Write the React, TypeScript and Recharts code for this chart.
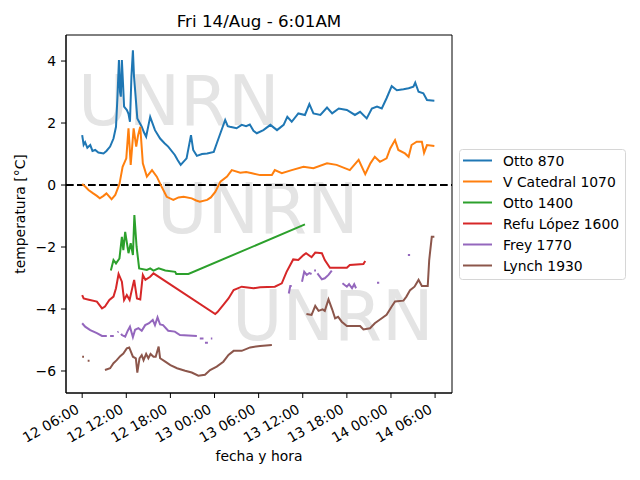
import { Customized, Legend, Line, LineChart, ReferenceArea, ReferenceLine, XAxis, YAxis } from "recharts";

// hours since 12/Aug 06:00
const hourTicks = [0, 6, 12, 18, 24, 30, 36, 42, 48];
const hourTickLabels = ["12 06:00", "12 12:00", "12 18:00", "13 00:00", "13 06:00", "13 12:00", "13 18:00", "14 00:00", "14 06:00"];
const tempTicks = [-6, -4, -2, 0, 2, 4];

const seriesNames = ["Otto 870", "V Catedral 1070", "Otto 1400", "Refu López 1600", "Frey 1770", "Lynch 1930"];
const seriesColors = ["#1f77b4", "#ff7f0e", "#2ca02c", "#d62728", "#9467bd", "#8c564b"];

const otto870 = [
  [0, 1.61], [0.2, 1.3], [0.4, 1.38], [0.7, 1.2], [1.1, 1.29], [1.4, 1.1], [1.77, 1.13], [2.2, 1.05], [2.9, 1.02],
  [3.3, 1.1], [3.8, 1.24], [4.26, 1.5], [4.6, 1.88], [4.8, 2.85], [5.0, 4.03], [5.15, 3.0], [5.26, 2.85], [5.4, 4.03],
  [5.55, 3.3], [5.7, 2.53], [6.08, 2.42], [6.3, 2.3], [6.5, 2.04], [6.7, 3.5], [6.9, 4.35], [7.05, 3.5], [7.2, 3.06],
  [7.5, 2.15], [8.1, 1.88], [8.4, 1.7], [8.7, 1.56], [9.25, 2.2], [9.9, 1.77], [10.6, 1.5], [11.2, 1.35], [11.7, 1.24],
  [12.6, 0.97], [13.0, 0.8], [13.4, 0.65], [14.2, 0.86], [14.8, 1.61], [15.1, 1.13], [15.6, 0.94], [16.3, 1.0],
  [17.0, 1.02], [17.9, 1.07], [18.3, 1.34], [18.8, 1.67], [19.45, 2.1], [19.8, 1.9], [20.1, 1.88], [21.0, 1.83],
  [21.7, 1.94], [22.3, 1.9], [22.8, 1.95], [23.3, 1.75], [23.75, 1.67], [24.65, 1.77], [25.6, 1.94], [26.5, 1.77],
  [27.4, 1.94], [27.9, 2.2], [28.5, 2.04], [29.4, 2.31], [30.3, 2.26], [30.9, 2.61], [31.45, 2.31], [32.4, 2.26],
  [33.3, 2.5], [34.0, 2.31], [34.9, 2.47], [36.0, 2.42], [37.1, 2.26], [37.8, 2.36], [38.7, 2.15], [39.4, 2.47],
  [40.1, 2.53], [40.75, 2.47], [41.4, 2.8], [42.1, 3.19], [42.8, 3.06], [43.7, 3.09], [44.4, 3.12], [45.05, 3.17],
  [45.3, 3.3], [45.75, 3.01], [46.4, 2.96], [46.9, 2.74], [47.9, 2.72],
];

const vCatedral1070 = [
  [0, 0.03], [0.4, -0.05], [0.86, -0.16], [1.5, -0.27], [2.0, -0.35], [2.4, -0.43], [2.9, -0.35], [3.3, -0.27],
  [4.0, -0.46], [4.5, -0.32], [5.07, 0.03], [5.5, 0.59], [6.0, 0.86], [6.3, 1.83], [6.6, 0.65], [7.0, 1.83],
  [7.35, 1.24], [7.6, 1.6], [7.9, 1.88], [8.25, 0.7], [8.8, 0.27], [9.5, 0.48], [10.15, 0.27], [10.8, -0.05],
  [11.5, -0.38], [12.4, -0.48], [13.1, -0.4], [13.8, -0.38], [14.9, -0.43], [15.5, -0.5], [16.0, -0.54], [17.0, -0.48],
  [17.5, -0.4], [18.1, -0.22], [18.8, 0.11], [19.7, 0.27], [20.35, 0.48], [21.5, 0.4], [22.3, 0.42], [23.1, 0.38],
  [24.2, 0.32], [25.8, 0.32], [26.2, 0.48], [27.15, 0.38], [28.5, 0.48], [30.1, 0.59], [31.45, 0.54], [33.3, 0.7],
  [34.6, 0.65], [36.4, 0.48], [37.6, 0.81], [38.5, 0.35], [39.2, 0.7], [39.8, 0.91], [40.5, 0.75], [41.4, 0.86],
  [41.9, 1.18], [42.55, 1.45], [43.0, 1.13], [43.9, 1.02], [44.4, 0.91], [44.8, 1.29], [45.5, 1.4], [46.2, 1.4],
  [46.5, 1.04], [46.9, 1.29], [47.9, 1.26],
];

const otto1400 = [
  [3.9, -2.76], [4.26, -2.42], [4.6, -2.53], [5.07, -2.37], [5.4, -1.67], [5.6, -2.1], [5.85, -1.51], [6.3, -2.2],
  [6.6, -1.88], [6.9, -2.26], [7.1, -0.97], [7.4, -1.99], [7.75, -2.69], [8.8, -2.74], [9.25, -2.69], [9.7, -2.76],
  [10.4, -2.69], [11.3, -2.76], [12.65, -2.8], [12.8, -2.87], [14.45, -2.87], [30.3, -1.27],
];

const refuLopez1600 = [
  [0, -3.55], [0.2, -3.66], [0.9, -3.7], [2.0, -3.76], [2.7, -3.98], [3.1, -3.92], [3.7, -3.71], [4.26, -3.6],
  [4.6, -3.33], [4.95, -2.87], [5.4, -3.12], [5.7, -3.71], [6.07, -3.55], [6.45, -3.71], [6.75, -3.39], [7.07, -3.06],
  [7.45, -3.66], [7.9, -3.69], [8.25, -2.9], [8.6, -3.06], [9.25, -2.96], [9.7, -2.85], [18.1, -4.16], [18.4, -4.1],
  [19.2, -3.87], [19.9, -3.66], [20.6, -3.39], [21.7, -3.28], [23.3, -3.33], [24.2, -3.3], [26.2, -3.28],
  [27.15, -3.17], [27.8, -2.8], [28.7, -2.4], [29.4, -2.42], [30.1, -2.26], [30.45, -2.2], [31.2, -2.33],
  [31.7, -2.18], [32.6, -2.2], [33.0, -2.42], [33.7, -2.67], [36.0, -2.67], [36.4, -2.58], [38.25, -2.55], [38.5, -2.45],
];

const frey1770 = [
  [0, -4.46], [0.4, -4.57], [1.1, -4.68], [2.0, -4.78], [2.7, -4.87], [3.35, -4.87], [3.5, null], [3.8, -4.87],
  [4.3, -4.87], [4.5, null], [4.8, -4.75], [4.95, -4.73], [5.1, null], [5.3, -4.8], [5.4, -4.84], [5.85, -4.89],
  [6.2, -4.7], [6.5, -4.57], [6.9, -4.91], [7.2, -4.67], [7.65, -4.62], [8.1, -4.7], [8.57, -4.52], [9.1, -4.46],
  [9.6, -4.35], [9.9, -4.52], [10.25, -4.27], [10.6, -4.5], [11.0, -4.52], [11.7, -4.7], [12.6, -4.73], [13.3, -4.84],
  [15.6, -4.87], [15.8, null], [16.0, -4.95], [16.5, -4.95], [16.6, null], [16.7, -5.09], [17.1, -5.09], [17.3, null],
  [17.5, -4.95], [17.7, -4.95], [17.9, null], [28.1, -3.5], [28.3, -3.26], [28.5, -3.26], [28.8, null],
  [29.9, -3.12], [30.2, -2.8], [30.55, -2.9], [30.9, -2.84], [31.2, -2.87], [31.4, null], [31.55, -2.76],
  [31.8, -2.76], [31.9, null], [32.0, -2.85], [32.15, -2.9], [32.6, -3.04], [33.0, -3.01], [33.5, -2.9],
  [33.95, -2.76], [34.2, null], [35.4, -3.17], [36.0, -3.28], [36.3, -3.2], [36.7, -3.33], [37.0, -3.2],
  [37.25, -3.33], [37.5, null], [40.1, -3.15], [40.4, -3.15], [40.6, null], [44.3, -2.26], [44.6, -2.26],
];

const lynch1930 = [
  [0, -5.54], [0.25, -5.54], [0.5, null], [0.75, -5.67], [1.0, -5.67], [1.2, null], [3.1, -5.97], [3.8, -5.91],
  [4.26, -5.75], [4.7, -5.65], [5.17, -5.52], [5.6, -5.44], [6.07, -5.27], [6.4, -5.24], [6.9, -5.54], [7.3, -5.59],
  [7.5, -6.05], [7.8, -5.59], [8.1, -5.49], [8.35, -5.65], [8.7, -5.45], [9.0, -5.59], [9.3, -5.45], [9.7, -5.54],
  [10.0, -5.54], [10.4, -5.21], [10.6, -5.59], [11.3, -5.7], [12.0, -5.81], [12.9, -5.91], [14.0, -5.99],
  [14.9, -6.05], [15.8, -6.15], [16.7, -6.12], [17.4, -5.97], [18.3, -5.86], [19.2, -5.7], [19.9, -5.48],
  [20.6, -5.35], [21.7, -5.35], [22.85, -5.24], [24.2, -5.19], [25.8, -5.16], [26.0, null], [30.5, -4.16],
  [31.2, -4.19], [31.7, -3.9], [32.15, -4.06], [32.7, -4.01], [33.0, -4.06], [33.5, -3.69], [34.0, -4.01],
  [34.4, -4.3], [34.8, -4.25], [35.3, -4.41], [36.0, -4.55], [37.8, -4.55], [38.25, -4.66], [39.15, -4.62],
  [39.8, -4.46], [40.75, -4.3], [41.4, -4.19], [42.1, -3.92], [42.55, -3.76], [43.7, -3.73], [44.1, -3.6],
  [44.6, -3.39], [45.2, -3.28], [45.75, -3.06], [46.2, -3.26], [47.0, -3.26], [47.2, -2.42], [47.55, -1.67], [47.9, -1.67],
];

const allSeries = [otto870, vCatedral1070, otto1400, refuLopez1600, frey1770, lynch1930];

const xDomain = [-2.2, 50.3];
const yDomain = [-6.71, 4.84];
const font = "'DejaVu Sans', sans-serif";

const toRows = (pts) => pts.map(([t, v]) => ({ t, v }));

const fmtTemp = (v) => (v < 0 ? "\u2212" + Math.abs(v) : String(v));

const DateTick = ({ x, y, payload }) => {
  const label = hourTickLabels[hourTicks.indexOf(payload.value)];
  const ax = x - 2;
  const ay = y + 9;
  return (
    <text x={ax} y={ay} transform={`rotate(-30 ${ax} ${ay})`} textAnchor="end" fontSize={13.9} fill="#000">
      {label}
    </text>
  );
};

const Watermark = () => (
  <g>
    {[[78, 125], [157, 233], [232, 340]].map(([x, y], i) => (
      <text key={i} x={x} y={y} fontSize={69} fill="#e4e4e4" fontFamily={font}>
        UNRN
      </text>
    ))}
  </g>
);

const Captions = () => (
  <g fontFamily={font} fill="#000">
    <text x={259} y={27} textAnchor="middle" fontSize={16.7}>Fri 14/Aug - 6:01AM</text>
    <text x={259} y={461} textAnchor="middle" fontSize={13.9}>fecha y hora</text>
    <text x={25} y={214} textAnchor="middle" fontSize={13.9} transform="rotate(-90 25 214)">temperatura [°C]</text>
  </g>
);

const LegendBox = () => (
  <svg width={168} height={132} style={{ display: "block", fontFamily: font }}>
    <rect x={0.5} y={0.5} width={166} height={130} rx={3} fill="#fff" fillOpacity={0.8} stroke="#d6d6d6" />
    {seriesNames.map((name, i) => (
      <g key={name}>
        <line x1={4} x2={33} y1={11.5 + i * 21} y2={11.5 + i * 21} stroke={seriesColors[i]} strokeWidth={2} />
        <text x={44} y={16.5 + i * 21} fontSize={13.9} fill="#000">{name}</text>
      </g>
    ))}
  </svg>
);

export default function App() {
  return (
    <div style={{ position: "absolute", left: 0, top: 0, width: 640, height: 480, background: "#fff", fontFamily: font }}>
      <LineChart width={640} height={480} margin={{ top: 35, right: 188, bottom: 27, left: 16 }}>
        <Customized component={Watermark} />
        <XAxis
          dataKey="t"
          type="number"
          domain={xDomain}
          allowDataOverflow
          ticks={hourTicks}
          tick={DateTick}
          height={60}
          tickSize={5}
          tickMargin={5}
          interval={0}
          stroke="#000"
          tickLine={{ stroke: "#000" }}
          axisLine={{ stroke: "#000" }}
        />
        <YAxis
          type="number"
          domain={yDomain}
          allowDataOverflow
          ticks={tempTicks}
          tickFormatter={fmtTemp}
          width={50}
          tickSize={5}
          tickMargin={5}
          tick={{ fill: "#000", fontSize: 13.9 }}
          tickLine={{ stroke: "#000" }}
          axisLine={{ stroke: "#000" }}
        />
        <ReferenceLine y={0} stroke="#000" strokeWidth={2} strokeDasharray="7.7 3.3" />
        {allSeries.map((pts, i) => (
          <Line
            key={seriesNames[i]}
            name={seriesNames[i]}
            data={toRows(pts)}
            dataKey="v"
            type="linear"
            stroke={seriesColors[i]}
            strokeWidth={2}
            dot={false}
            activeDot={false}
            connectNulls={false}
            isAnimationActive={false}
          />
        ))}
        <ReferenceArea
          x1={xDomain[0]}
          x2={xDomain[1]}
          y1={yDomain[0]}
          y2={yDomain[1]}
          fill="none"
          fillOpacity={0}
          stroke="#000"
          strokeOpacity={1}
          strokeWidth={1}
        />
        <Customized component={Captions} />
        <Legend layout="horizontal" verticalAlign="middle" align="center" content={LegendBox} wrapperStyle={{ left: 459, top: 149, width: 168, height: 132 }} />
      </LineChart>
    </div>
  );
}
